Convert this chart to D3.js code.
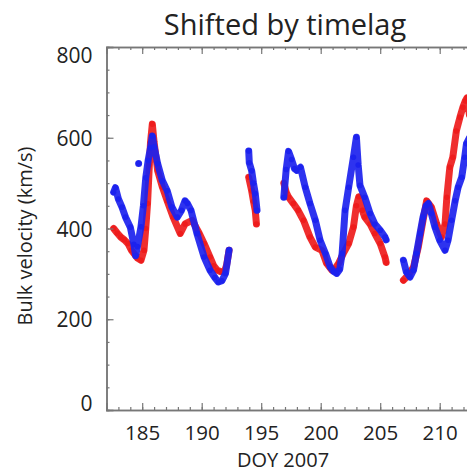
<!DOCTYPE html>
<html>
<head>
<meta charset="utf-8">
<script src="https://cdn.jsdelivr.net/npm/d3@7"></script>
<style>
  html, body { margin: 0; padding: 0; background: #fff; }
  svg { display: block; }
  text { font-family: "Open Sans", "DejaVu Sans", sans-serif; fill: #222; }
</style>
</head>
<body>
<svg id="chart" width="467" height="473"></svg>
<script>
// ---- data (null marks a data gap) ----
const blueDays = [
  182.6, 182.75, 183.0, 183.3, 183.6, 184.0, 184.3, 184.45, 184.6, 184.9, 185.1, 185.3, 185.5, 185.7, 185.85, 186.0, 186.3, 186.7, 187.1, 187.5, 187.95, 188.3, 188.6, 188.8, 189.1, 189.6, 190.2, 190.7, 191.1, 191.4, 191.7, 192.0, 192.3,
  null, 184.7, null,
  193.95, 194.0, 194.2, 194.35, 194.5, 194.65,
  null,
  196.9, 197.1, 197.3, 197.55, 197.8, 198.0, 198.3, 198.7, 199.1, 199.55, 199.95, 200.4, 200.8, 201.1, 201.35, 201.6, 201.8, 202.05, 202.35, 202.75, 203.0, 203.15, 203.3, 203.7, 204.15, 204.55, 205.0, 205.4, 205.5,
  null,
  206.95, 207.2, 207.5, 207.8, 208.05, 208.35, 208.6, 208.85, 209.05, 209.3, 209.6, 210.0, 210.45, 210.7, 211.0, 211.3, 211.55, 211.85, 212.1, 212.25, 212.5
];
const blueVel = [
  480, 490, 465, 447, 425, 403, 365, 340, 360, 404, 450, 512, 550, 578, 604, 580, 543, 505, 483, 447, 425, 440, 461, 455, 440, 389, 337, 308, 292, 282, 285, 301, 352,
  null, 543, null,
  571, 545, 527, 500, 477, 440,
  null,
  469, 530, 570, 552, 532, 528, 535, 491, 455, 418, 374, 345, 315, 305, 301, 310, 345, 440, 491, 557, 601, 540, 495, 469, 433, 410, 396, 381, 375,
  null,
  330, 304, 293, 308, 345, 389, 425, 450, 455, 433, 403, 374, 352, 374, 418, 461, 491, 513, 557, 587, 600
];
const redDays = [
  182.6, 182.9, 183.2, 183.5, 183.8, 184.1, 184.3, 184.6, 184.9, 185.15, 185.3, 185.45, 185.6, 185.7, 185.85, 186.0, 186.3, 186.7, 187.1, 187.6, 188.2, 188.6, 189.2, 189.8, 190.2, 190.7, 191.0, 191.3, 191.6, 191.9, 192.1, 192.3,
  null,
  193.95, 194.2, 194.35, 194.5, 194.6,
  null,
  196.9, 197.1, 197.3, 197.7, 198.1, 198.55, 199.1, 199.55, 200.1, 200.5, 200.95, 201.2, 201.5, 201.9, 202.35, 202.75, 203.0, 203.2, 203.5, 203.7, 204.15, 204.55, 205.0, 205.4, 205.5,
  null,
  206.95, 207.35, 207.8, 208.2, 208.6, 208.9, 209.3, 209.75, 210.15, 210.45, 210.6, 210.85, 211.1, 211.4, 211.7, 211.95, 212.15, 212.3, 212.5
];
const redVel = [
  400, 390, 381, 375, 367, 352, 345, 335, 330, 352, 400, 455, 540, 590, 630, 590, 527, 491, 461, 425, 389, 410, 418, 389, 367, 337, 318, 308, 305, 304, 320, 352,
  null,
  513, 483, 460, 440, 410,
  null,
  500, 480, 469, 455, 440, 418, 381, 359, 352, 323, 308, 312, 323, 345, 367, 403, 450, 470, 440, 425, 410, 389, 367, 337, 325,
  null,
  286, 297, 315, 359, 418, 461, 447, 410, 381, 410, 469, 535, 557, 615, 645, 667, 681, 688, 650
];
const yMajorTicks = [0, 200, 400, 600, 800];
const xMajorTicks = [185, 190, 195, 200, 205, 210];
const titleText = "Shifted by timelag";
const xLabel = "DOY 2007";
const yLabel = "Bulk velocity (km/s)";

// ---- layout ----
const svg = d3.select("#chart");
const L = 106.5, R = 475.4, T = 47, B = 410;
const x = d3.scaleLinear().domain([182, 213]).range([L, R]);
const y = d3.scaleLinear().domain([0, 800]).range([B, T]);

const toPts = (days, vals) => days.map((d, i) => ({ d, v: vals[i] }));
const redPts = toPts(redDays, redVel);
const bluePts = toPts(blueDays, blueVel);

svg.append("defs").append("clipPath").attr("id", "clip")
  .append("rect").attr("x", L).attr("y", T).attr("width", R - L).attr("height", B - T);

const line = d3.line()
  .defined(p => p.d != null && p.v != null)
  .x(p => x(p.d)).y(p => y(p.v));

const g = svg.append("g").attr("clip-path", "url(#clip)");
function drawSeries(pts, color) {
  g.append("path").datum(pts)
    .attr("d", line)
    .attr("fill", "none")
    .attr("stroke", color)
    .attr("stroke-width", 7)
    .attr("stroke-linejoin", "round")
    .attr("stroke-linecap", "round")
    .attr("opacity", 0.92);
  g.selectAll(null).data(pts.filter(p => p.d != null && p.v != null)).enter()
    .append("circle")
    .attr("cx", p => x(p.d)).attr("cy", p => y(p.v))
    .attr("r", 2.8)
    .attr("fill", color);
}
drawSeries(redPts, "#ee1c1c");
drawSeries(bluePts, "#1c22ee");

// ---- axes ----
const axisColor = "#777";
const yMinor = d3.range(0, 801, 50);
const xMinor = d3.range(182, 214, 1);

function styleAxis(sel) {
  sel.select(".domain").attr("stroke", axisColor).attr("stroke-width", 1.5);
  sel.selectAll(".tick line").attr("stroke", axisColor).attr("stroke-width", 1.2);
}

// left
const gl = svg.append("g").attr("transform", `translate(${L},0)`)
  .call(d3.axisLeft(y).tickValues(yMinor).tickSize(-3).tickFormat(""));
styleAxis(gl);
const glM = svg.append("g").attr("transform", `translate(${L},0)`)
  .call(d3.axisLeft(y).tickValues(yMajorTicks).tickSize(-7).tickPadding(14).tickFormat(d3.format("d")));
styleAxis(glM);
glM.selectAll(".tick text")
  .attr("font-size", 21)
  .attr("fill", "#222")
  .attr("font-family", "'Open Sans', sans-serif")
  .attr("dy", d => d === 800 ? "0.75em" : d === 0 ? "0.0em" : "0.36em");

// right (out of view mostly)
const gr = svg.append("g").attr("transform", `translate(${R},0)`)
  .call(d3.axisRight(y).tickValues(yMinor).tickSize(-3).tickFormat(""));
styleAxis(gr);

// bottom
const gb = svg.append("g").attr("transform", `translate(0,${B})`)
  .call(d3.axisBottom(x).tickValues(xMinor).tickSize(-3).tickFormat(""));
styleAxis(gb);
const gbM = svg.append("g").attr("transform", `translate(0,${B})`)
  .call(d3.axisBottom(x).tickValues(xMajorTicks).tickSize(-7).tickPadding(15).tickFormat(d3.format("d")));
styleAxis(gbM);
gbM.selectAll(".tick text")
  .attr("font-size", 20.5)
  .attr("fill", "#222")
  .attr("font-family", "'Open Sans', sans-serif");

// top
const gt = svg.append("g").attr("transform", `translate(0,${T})`)
  .call(d3.axisTop(x).tickValues(xMinor).tickSize(-3).tickFormat(""));
styleAxis(gt);
const gtM = svg.append("g").attr("transform", `translate(0,${T})`)
  .call(d3.axisTop(x).tickValues(xMajorTicks).tickSize(-7).tickFormat(""));
styleAxis(gtM);

// ---- labels ----
svg.append("text")
  .attr("x", 285).attr("y", 35)
  .attr("text-anchor", "middle")
  .attr("font-size", 29)
  .text(titleText);

svg.append("text")
  .attr("x", 283).attr("y", 467)
  .attr("text-anchor", "middle")
  .attr("font-size", 20)
  .text(xLabel);

svg.append("text")
  .attr("transform", "translate(32,236) rotate(-90)")
  .attr("text-anchor", "middle")
  .attr("font-size", 20)
  .text(yLabel);
</script>
</body>
</html>
